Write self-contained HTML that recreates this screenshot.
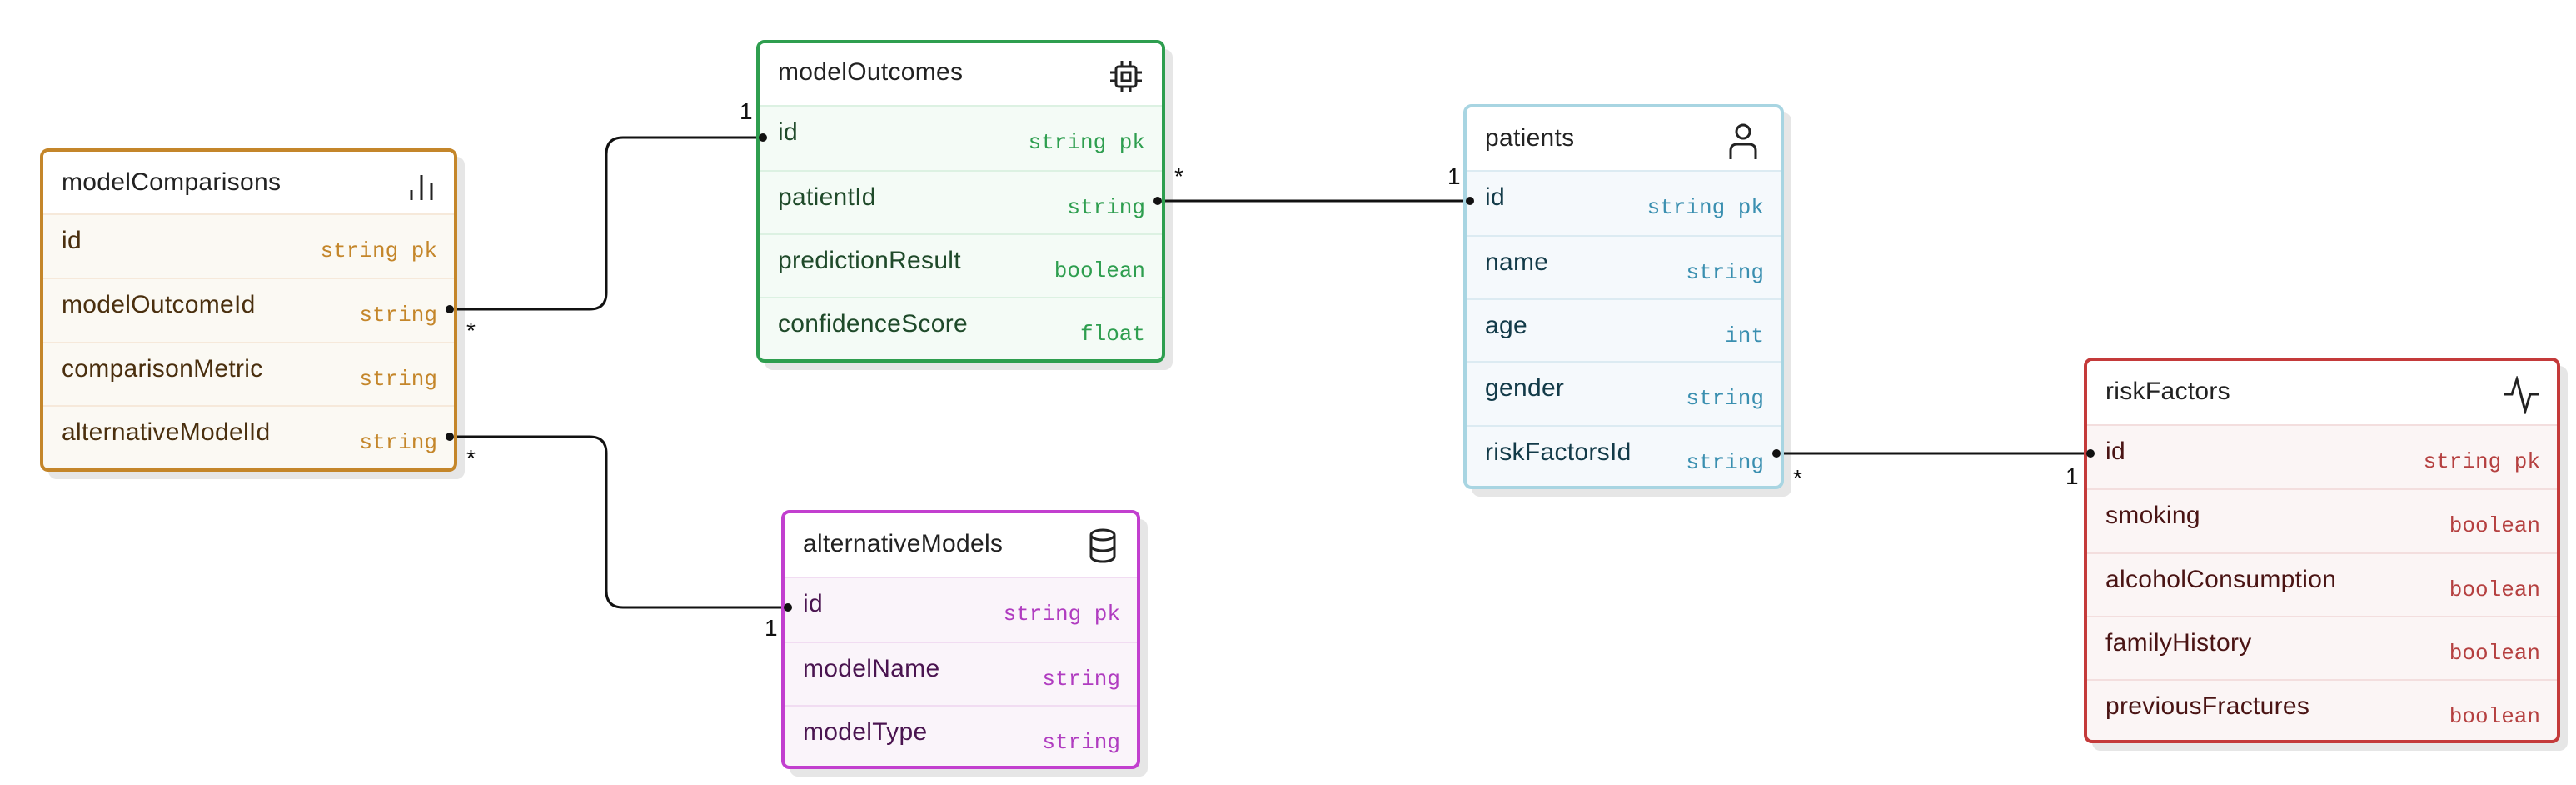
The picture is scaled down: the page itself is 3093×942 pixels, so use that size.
<!DOCTYPE html>
<html><head><meta charset="utf-8">
<style>
body{margin:0;width:3093px;height:942px;background:#fff;position:relative;overflow:hidden;font-family:"Liberation Sans",sans-serif;}
.t{position:absolute;box-sizing:border-box;border:4px solid;border-radius:10px;overflow:hidden;}
.sh{position:absolute;background:#e6e6e6;border-radius:10px;}
.h{position:absolute;left:0;right:0;top:0;background:#fff;}
.h span{position:absolute;left:22px;font-size:30px;color:#222;letter-spacing:0.3px;}
.r{position:absolute;left:0;right:0;border-top:2px solid;}
.r .n{position:absolute;left:22px;font-size:30px;letter-spacing:0.3px;}
.r .y{position:absolute;right:20px;font-family:"Liberation Mono",monospace;font-size:26px;white-space:pre;}
.ic{position:absolute;}
.lbl{position:absolute;font-size:28px;color:#111;}
</style></head><body>

<div class="sh" style="left:58px;top:188px;width:500px;height:387px"></div>
<div class="sh" style="left:918px;top:59px;width:490px;height:385px"></div>
<div class="sh" style="left:948px;top:623px;width:430px;height:309px"></div>
<div class="sh" style="left:1767px;top:135px;width:384px;height:461px"></div>
<div class="sh" style="left:2512px;top:439px;width:571px;height:462px"></div>

<svg style="position:absolute;left:0;top:0" width="3093" height="942">
<g fill="none" stroke="#111" stroke-width="3">
<path d="M548 371 H708 Q728 371 728 351 V185 Q728 165 748 165 H908"/>
<path d="M548 524 H708 Q728 524 728 544 V709 Q728 729 748 729 H938"/>
<path d="M1398 241 H1757"/>
<path d="M2141 544 H2502"/>
</g>
</svg>

<div class="lbl" style="left:560px;top:381px">*</div>
<div class="lbl" style="left:560px;top:534px">*</div>
<div class="lbl" style="left:888px;top:118px">1</div>
<div class="lbl" style="left:918px;top:738px">1</div>
<div class="lbl" style="left:1410px;top:196px">*</div>
<div class="lbl" style="left:1738px;top:196px">1</div>
<div class="lbl" style="left:2153px;top:558px">*</div>
<div class="lbl" style="left:2480px;top:556px">1</div>

<div class="t" style="left:48px;top:178px;width:501px;height:388px;border-color:#c4862a;background:#fbf9f3">
 <div class="h" style="height:74px"><span style="top:20px">modelComparisons</span></div>
 <svg class="ic" style="left:434px;top:20px" width="40" height="40" fill="none" stroke="#222" stroke-width="3"><path d="M8 38V26M20 38V8M32 38V18"/></svg>
 <div class="r" style="top:74px;height:77px;border-color:#f6e9da"><span class="n" style="top:14px;color:#4a2f0e">id</span><span class="y" style="top:28px;color:#c4862a">string pk</span></div>
 <div class="r" style="top:151px;height:77px;border-color:#f6e9da"><span class="n" style="top:14px;color:#4a2f0e">modelOutcomeId</span><span class="y" style="top:28px;color:#c4862a">string</span></div>
 <div class="r" style="top:228px;height:76px;border-color:#f6e9da"><span class="n" style="top:14px;color:#4a2f0e">comparisonMetric</span><span class="y" style="top:28px;color:#c4862a">string</span></div>
 <div class="r" style="top:304px;height:80px;border-color:#f6e9da"><span class="n" style="top:14px;color:#4a2f0e">alternativeModelId</span><span class="y" style="top:28px;color:#c4862a">string</span></div>
</div>

<div class="t" style="left:908px;top:48px;width:491px;height:387px;border-color:#2e9e4f;background:#f4fbf6">
 <div class="h" style="height:74px"><span style="top:18px">modelOutcomes</span></div>
 <svg class="ic" style="left:418px;top:18px" width="44" height="44" fill="none" stroke="#222" stroke-width="3"><rect x="10" y="10" width="24" height="24" rx="3"/><rect x="17" y="17" width="10" height="10"/><path d="M17 3v7M27 3v7M17 34v7M27 34v7M3 17h7M3 27h7M34 17h7M34 27h7"/></svg>
 <div class="r" style="top:74px;height:78px;border-color:#dcf1e2"><span class="n" style="top:14px;color:#1f4a2a">id</span><span class="y" style="top:28px;color:#2e9e4f">string pk</span></div>
 <div class="r" style="top:152px;height:76px;border-color:#dcf1e2"><span class="n" style="top:14px;color:#1f4a2a">patientId</span><span class="y" style="top:28px;color:#2e9e4f">string</span></div>
 <div class="r" style="top:228px;height:76px;border-color:#dcf1e2"><span class="n" style="top:14px;color:#1f4a2a">predictionResult</span><span class="y" style="top:28px;color:#2e9e4f">boolean</span></div>
 <div class="r" style="top:304px;height:80px;border-color:#dcf1e2"><span class="n" style="top:14px;color:#1f4a2a">confidenceScore</span><span class="y" style="top:28px;color:#2e9e4f">float</span></div>
</div>

<div class="t" style="left:938px;top:612px;width:431px;height:311px;border-color:#c23fcf;background:#faf4fa">
 <div class="h" style="height:76px"><span style="top:20px">alternativeModels</span></div>
 <svg class="ic" style="left:362px;top:16px" width="40" height="48" fill="none" stroke="#222" stroke-width="3"><ellipse cx="20" cy="10" rx="14" ry="6"/><path d="M6 10v26c0 3.5 6 6 14 6s14-2.5 14-6V10M6 23c0 3.5 6 6 14 6s14-2.5 14-6"/></svg>
 <div class="r" style="top:76px;height:78px;border-color:#f1dcf2"><span class="n" style="top:14px;color:#4a1450">id</span><span class="y" style="top:28px;color:#b03cc0">string pk</span></div>
 <div class="r" style="top:154px;height:76px;border-color:#f1dcf2"><span class="n" style="top:14px;color:#4a1450">modelName</span><span class="y" style="top:28px;color:#b03cc0">string</span></div>
 <div class="r" style="top:230px;height:80px;border-color:#f1dcf2"><span class="n" style="top:14px;color:#4a1450">modelType</span><span class="y" style="top:28px;color:#b03cc0">string</span></div>
</div>

<div class="t" style="left:1757px;top:125px;width:385px;height:462px;border-color:#a8d5e2;background:#f5f9fc">
 <div class="h" style="height:75px"><span style="top:20px">patients</span></div>
 <svg class="ic" style="left:312px;top:18px" width="40" height="48" fill="none" stroke="#222" stroke-width="3"><circle cx="20" cy="11" r="8"/><path d="M5 44V34q0-8 8-8h14q8 0 8 8v10"/></svg>
 <div class="r" style="top:75px;height:78px;border-color:#dcebf2"><span class="n" style="top:14px;color:#123a48">id</span><span class="y" style="top:28px;color:#3a8fb0">string pk</span></div>
 <div class="r" style="top:153px;height:76px;border-color:#dcebf2"><span class="n" style="top:14px;color:#123a48">name</span><span class="y" style="top:28px;color:#3a8fb0">string</span></div>
 <div class="r" style="top:229px;height:75px;border-color:#dcebf2"><span class="n" style="top:14px;color:#123a48">age</span><span class="y" style="top:28px;color:#3a8fb0">int</span></div>
 <div class="r" style="top:304px;height:77px;border-color:#dcebf2"><span class="n" style="top:14px;color:#123a48">gender</span><span class="y" style="top:28px;color:#3a8fb0">string</span></div>
 <div class="r" style="top:381px;height:80px;border-color:#dcebf2"><span class="n" style="top:14px;color:#123a48">riskFactorsId</span><span class="y" style="top:28px;color:#3a8fb0">string</span></div>
</div>

<div class="t" style="left:2502px;top:429px;width:572px;height:463px;border-color:#c43a3a;background:#fbf5f5">
 <div class="h" style="height:76px"><span style="top:20px">riskFactors</span></div>
 <svg class="ic" style="left:498px;top:18px" width="48" height="46" fill="none" stroke="#222" stroke-width="3"><path d="M2 22h10l6-18 10 38 6-20h10"/></svg>
 <div class="r" style="top:76px;height:77px;border-color:#f3dede"><span class="n" style="top:14px;color:#4a1414">id</span><span class="y" style="top:28px;color:#b54040">string pk</span></div>
 <div class="r" style="top:153px;height:77px;border-color:#f3dede"><span class="n" style="top:14px;color:#4a1414">smoking</span><span class="y" style="top:28px;color:#b54040">boolean</span></div>
 <div class="r" style="top:230px;height:76px;border-color:#f3dede"><span class="n" style="top:14px;color:#4a1414">alcoholConsumption</span><span class="y" style="top:28px;color:#b54040">boolean</span></div>
 <div class="r" style="top:306px;height:76px;border-color:#f3dede"><span class="n" style="top:14px;color:#4a1414">familyHistory</span><span class="y" style="top:28px;color:#b54040">boolean</span></div>
 <div class="r" style="top:382px;height:80px;border-color:#f3dede"><span class="n" style="top:14px;color:#4a1414">previousFractures</span><span class="y" style="top:28px;color:#b54040">boolean</span></div>
</div>

<svg style="position:absolute;left:0;top:0" width="3093" height="942">
<g fill="#111">
<circle cx="540" cy="371" r="5"/><circle cx="916" cy="165" r="5"/>
<circle cx="540" cy="524" r="5"/><circle cx="946" cy="729" r="5"/>
<circle cx="1390" cy="241" r="5"/><circle cx="1765" cy="241" r="5"/>
<circle cx="2133" cy="544" r="5"/><circle cx="2510" cy="544" r="5"/>
</g>
</svg>

</body></html>
